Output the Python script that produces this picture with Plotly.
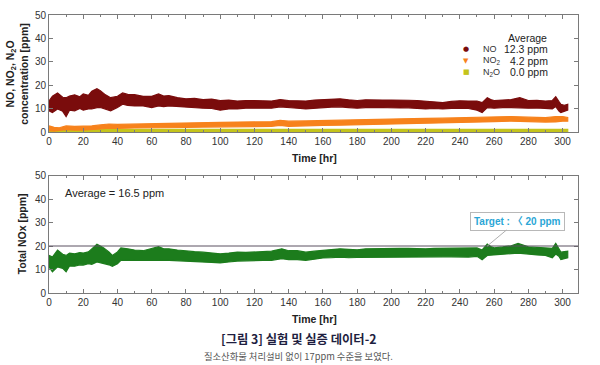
import plotly.graph_objects as go

# ---------------- data ----------------
no_t = [0, 2, 5, 8, 10, 12, 15, 18, 20, 23, 25, 28, 30, 33, 36, 40, 43, 46, 50, 55, 60, 64, 67, 70, 75,
        80, 85, 90, 95, 100, 105, 110, 115, 120, 125, 130, 135, 140, 145, 150, 155, 160, 165, 170, 175,
        180, 185, 190, 195, 200, 205, 210, 215, 220, 225, 230, 235, 240, 245, 250, 253, 256, 258, 260,
        265, 270, 275, 280, 285, 290, 294, 296, 298, 299, 301, 303]
no_hi = [13.4, 15.4, 16.8, 15.0, 14.8, 15.5, 16.0, 15.2, 16.4, 15.8, 17.5, 18.6, 17.8, 16.0, 14.8, 15.4,
         16.8, 16.2, 16.1, 15.4, 15.4, 16.4, 15.5, 15.7, 14.8, 14.3, 14.5, 14.0, 14.2, 13.6, 13.8, 13.4,
         13.6, 13.4, 13.5, 13.4, 14.0, 13.6, 13.5, 13.4, 13.8, 14.0, 14.1, 14.3, 13.9, 13.6, 13.9, 14.0,
         13.8, 13.8, 13.9, 13.7, 13.6, 13.4, 13.2, 12.7, 13.2, 13.5, 13.4, 13.4, 12.7, 14.8, 14.0, 13.6,
         13.8, 14.0, 14.8, 13.6, 13.7, 13.4, 13.6, 15.2, 13.0, 12.0, 11.5, 12.0]
no_lo = [9.2, 8.5, 10.0, 9.0, 6.8, 9.5, 9.2, 10.2, 9.5, 10.0, 10.0, 10.6, 10.6, 10.0, 9.2, 10.6, 12.0,
         11.5, 11.3, 11.3, 10.6, 11.3, 11.0, 11.3, 10.9, 10.6, 10.5, 10.3, 10.2, 9.5, 10.0, 10.0, 10.3,
         10.2, 10.4, 10.3, 10.9, 10.6, 10.3, 10.0, 10.5, 10.6, 10.8, 10.9, 10.6, 10.3, 10.6, 10.7, 10.5,
         10.6, 10.4, 10.5, 10.3, 10.0, 10.2, 10.0, 10.2, 10.3, 10.2, 9.5, 8.5, 10.6, 10.5, 10.3, 10.6,
         10.6, 10.6, 10.3, 10.4, 10.3, 10.0, 11.0, 9.0, 8.5, 9.0, 9.5]

no2_t = [0, 3, 6, 10, 15, 20, 25, 30, 35, 40, 50, 60, 70, 80, 90, 100, 110, 120, 130, 135, 140, 150,
         160, 170, 180, 190, 200, 210, 220, 230, 240, 250, 260, 270, 280, 290, 296, 300, 303]
no2_hi = [2.8, 2.2, 2.0, 2.8, 2.6, 2.6, 2.8, 3.2, 3.6, 3.4, 3.6, 3.8, 4.0, 4.0, 4.2, 4.3, 4.4, 4.5, 4.6,
          5.2, 4.8, 4.9, 5.1, 5.2, 5.3, 5.5, 5.8, 5.9, 6.0, 6.1, 6.2, 6.4, 6.6, 6.8, 6.5, 6.3, 6.8, 6.8, 6.4]
no2_lo = [0.8, 0.6, 0.9, 1.2, 1.0, 1.0, 1.2, 1.5, 1.8, 1.7, 1.9, 2.0, 2.1, 2.1, 2.3, 2.4, 2.5, 2.5, 2.6,
          3.0, 2.6, 2.8, 3.0, 3.1, 3.3, 3.5, 3.7, 3.9, 4.0, 4.1, 4.3, 4.4, 4.6, 4.8, 4.6, 4.4, 4.5, 4.8, 4.8]

n2o_t = [0, 3, 6, 303]
n2o_hi = [2.2, 1.6, 1.3, 1.3]
n2o_lo = [-0.8, -0.8, -0.8, -0.8]

nox_t = [0, 2, 5, 8, 10, 12, 15, 18, 20, 23, 25, 28, 30, 32, 35, 37, 40, 42, 46, 50, 55, 60, 64, 67, 70,
         75, 80, 85, 90, 95, 100, 105, 110, 115, 120, 125, 130, 136, 140, 145, 150, 155, 160, 165, 170,
         175, 180, 185, 190, 195, 200, 205, 210, 215, 220, 225, 230, 235, 240, 245, 250, 253, 256, 258,
         260, 265, 270, 274, 278, 280, 285, 290, 294, 296, 298, 299, 301, 303]
nox_hi = [16.0, 15.3, 18.3, 16.5, 16.0, 17.0, 16.7, 17.2, 17.0, 17.5, 18.8, 20.8, 20.0, 19.2, 17.5, 16.0,
          17.5, 19.2, 18.8, 18.3, 18.0, 18.8, 19.7, 18.8, 18.8, 18.3, 17.8, 17.6, 17.4, 17.2, 16.7, 17.0,
          17.4, 17.3, 17.4, 17.6, 17.8, 18.8, 18.0, 18.0, 17.4, 17.8, 18.3, 18.5, 18.8, 18.5, 18.4, 18.8,
          18.9, 18.8, 19.2, 19.0, 19.0, 18.8, 18.8, 19.0, 19.0, 19.2, 19.1, 19.0, 19.2, 18.3, 20.8, 19.8,
          19.2, 19.6, 20.1, 21.1, 20.0, 19.7, 19.4, 19.2, 19.0, 21.1, 19.0, 17.4, 17.6, 17.8]
nox_lo = [11.1, 9.0, 11.1, 10.5, 9.0, 11.5, 11.4, 12.0, 11.9, 12.5, 12.2, 13.2, 13.0, 12.5, 12.0, 11.4,
          12.5, 13.9, 14.0, 13.9, 13.6, 13.9, 13.9, 14.0, 13.9, 13.8, 13.6, 13.4, 13.2, 13.0, 12.8, 13.2,
          13.6, 13.7, 13.9, 13.9, 13.9, 14.6, 14.2, 14.2, 13.9, 14.4, 14.9, 15.0, 15.3, 15.0, 15.1, 15.2,
          15.3, 15.2, 15.3, 15.4, 15.2, 15.3, 15.3, 15.4, 15.4, 15.4, 15.5, 15.3, 15.6, 14.2, 16.0, 16.2,
          16.4, 16.6, 16.8, 17.0, 16.7, 16.6, 16.2, 16.0, 15.0, 16.6, 15.5, 14.2, 14.6, 15.0]

series_names = ["NO", "NO<sub>2</sub>", "N<sub>2</sub>O"]
series_avg = ["12.3 ppm", "4.2 ppm", "0.0 ppm"]
series_symbols = ["●", "▼", "■"]
nox_avg_text = "Average = 16.5 ppm"
target_value = 20
target_label = "Target : 〈 20 ppm"
target_time = 256
x_ticks = list(range(0, 301, 20))
y_ticks = list(range(0, 51, 10))
caption = "[그림 3] 실험 및 실증 데이터-2"
subcaption = "질소산화물 처리설비 없이 17ppm 수준을 보였다."

C_NO = "#7a0c0c"
C_NO2 = "#f7821c"
C_N2O = "#c4c41c"
C_NOX = "#1c7c1c"
colors = [C_NO, C_NO2, C_N2O]

FONT = "Liberation Sans, Arial, sans-serif"
KFONT = "Noto Sans CJK KR"


def band(t, hi, lo, color, xa, ya):
    return go.Scatter(
        x=list(t) + list(t)[::-1],
        y=list(hi) + list(lo)[::-1],
        fill="toself", fillcolor=color, mode="lines",
        line=dict(color=color, width=1.2),
        xaxis=xa, yaxis=ya, showlegend=False, hoverinfo="skip")


fig = go.Figure()
fig.add_trace(band(n2o_t, n2o_hi, n2o_lo, C_N2O, "x", "y"))
fig.add_trace(band(no2_t, no2_hi, no2_lo, C_NO2, "x", "y"))
fig.add_trace(band(no_t, no_hi, no_lo, C_NO, "x", "y"))
fig.add_trace(band(nox_t, nox_hi, nox_lo, C_NOX, "x2", "y2"))

XR = [0, 309]
axcol = "#7a7a7a"
tickfont = dict(family=FONT, size=10, color="#333")

xcommon = dict(range=XR, tickvals=x_ticks, ticks="inside", ticklen=4, tickcolor=axcol,
               showline=True, linecolor=axcol, linewidth=1, mirror="ticks",
               showgrid=False, zeroline=False, tickfont=tickfont,
               minor=dict(dtick=10, tick0=0, ticks="inside", ticklen=2, tickcolor=axcol))
ycommon = dict(range=[0, 50], tickvals=y_ticks, ticks="inside", ticklen=4, tickcolor=axcol,
               showline=True, linecolor=axcol, linewidth=1, mirror="ticks",
               showgrid=False, zeroline=False, tickfont=tickfont)
yright = dict(range=[0, 50], tickvals=y_ticks, ticks="inside", ticklen=4, tickcolor=axcol,
              showline=False, showgrid=False, zeroline=False, tickfont=tickfont, side="right")

TOP = [0.5775, 1.0]
BOT = [0.0, 0.4225]

fig.update_layout(
    width=600, height=365,
    margin=dict(l=49, r=22, t=9, b=72),
    paper_bgcolor="white", plot_bgcolor="white",
    font=dict(family=FONT, color="#222"),
    showlegend=False,
    xaxis=dict(**xcommon, domain=[0, 1], anchor="y"),
    yaxis=dict(**ycommon, domain=TOP, anchor="x"),
    xaxis2=dict(**xcommon, domain=[0, 1], anchor="y2"),
    yaxis2=dict(**ycommon, domain=BOT, anchor="x2"),
    yaxis3=dict(**yright, overlaying="y", anchor="x"),
    yaxis4=dict(**yright, overlaying="y2", anchor="x2"),
)

# target line
fig.add_shape(type="line", xref="x2 domain", yref="y2", x0=0, x1=1,
              y0=target_value, y1=target_value, line=dict(color="#5a5060", width=1))


def px_x(p):
    return (p - 49) / 529.0


def px_y(p):
    return (293 - p) / 284.0


ann = []
# axis titles
ann.append(dict(text="<b>NO, NO<sub>2</sub>, N<sub>2</sub>O<br>concentration [ppm]</b>",
                xref="paper", yref="paper", x=px_x(17), y=px_y(69), textangle=-90,
                xanchor="center", yanchor="middle", showarrow=False,
                font=dict(family=FONT, size=10.5, color="#222")))
ann.append(dict(text="<b>Total NOx [ppm]</b>", xref="paper", yref="paper",
                x=px_x(22), y=px_y(233), textangle=-90, xanchor="center", yanchor="middle",
                showarrow=False, font=dict(family=FONT, size=10.5, color="#222")))
for yy in (155, 320):
    ann.append(dict(text="<b>Time [hr]</b>", xref="paper", yref="paper", x=px_x(314), y=px_y(yy),
                    xanchor="center", yanchor="middle", showarrow=False,
                    font=dict(family=FONT, size=10.5, color="#222")))

# legend-like block
ann.append(dict(text="Average", xref="paper", yref="paper", x=px_x(527), y=px_y(32),
                xanchor="center", yanchor="middle", showarrow=False,
                font=dict(family=FONT, size=10.5, color="#222")))
for i, (nm, av, sy, c) in enumerate(zip(series_names, series_avg, series_symbols, colors)):
    yy = 43.5 + 12 * i
    ann.append(dict(text=sy, xref="paper", yref="paper", x=px_x(466), y=px_y(yy),
                    xanchor="center", yanchor="middle", showarrow=False,
                    font=dict(family="DejaVu Sans", size=7, color=c)))
    ann.append(dict(text=nm, xref="paper", yref="paper", x=px_x(481), y=px_y(yy),
                    xanchor="left", yanchor="middle", showarrow=False,
                    font=dict(family=FONT, size=9, color="#333")))
    ann.append(dict(text=av, xref="paper", yref="paper", x=px_x(550), y=px_y(yy),
                    xanchor="right", yanchor="middle", showarrow=False,
                    font=dict(family=FONT, size=10.5, color="#222")))

ann.append(dict(text=nox_avg_text, xref="paper", yref="paper", x=px_x(63), y=px_y(191),
                xanchor="left", yanchor="middle", showarrow=False,
                font=dict(family=FONT, size=11, color="#222")))

ann.append(dict(text="<b>" + target_label + "</b>", xref="x2", yref="y2",
                x=target_time, y=target_value, ax=30, ay=-25, showarrow=True, arrowhead=0,
                arrowwidth=1, arrowcolor="#b0b0b0", bordercolor="#b8b8b8", borderwidth=1,
                borderpad=3, bgcolor="white",
                font=dict(family=FONT + ", " + KFONT, size=10, color="#2aa6d6")))

ann.append(dict(text="<b>" + caption + "</b>", xref="paper", yref="paper", x=px_x(298),
                y=px_y(340), xanchor="center", yanchor="middle", showarrow=False,
                font=dict(family=KFONT, size=12.3, color="#1e1e40")))
ann.append(dict(text=subcaption, xref="paper", yref="paper", x=px_x(298), y=px_y(357.5),
                xanchor="center", yanchor="middle", showarrow=False,
                font=dict(family=KFONT, size=9.3, color="#555")))

fig.update_layout(annotations=ann)
fig.write_html("out.html", config={"displayModeBar": False},
               post_script="document.body.style.margin='0';document.body.style.padding='0';")
